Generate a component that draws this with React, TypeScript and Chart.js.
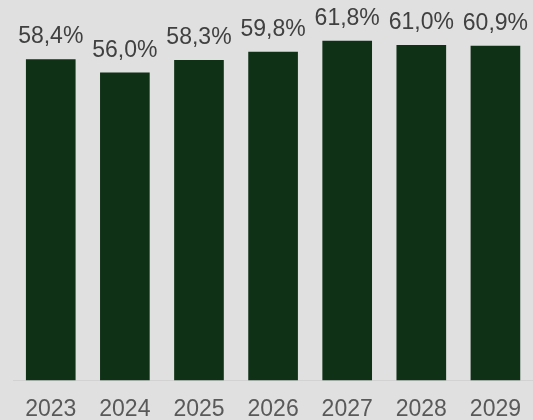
import React, { useEffect, useRef } from "react";
import { Chart, registerables } from "chart.js";

Chart.register(...registerables);

const categories: string[] = ["2023", "2024", "2025", "2026", "2027", "2028", "2029"];
const shareValues: number[] = [58.4, 56.0, 58.3, 59.8, 61.8, 61.0, 60.9];

const BG = "#e0e0e0";
const BAR = "#0f3116";
const FONT = "'Liberation Sans', Arial, sans-serif";

const valueLabels = {
  id: "valueLabels",
  afterDatasetsDraw(chart: any) {
    const ctx = chart.ctx;
    const meta = chart.getDatasetMeta(0);
    const data = chart.data.datasets[0].data as number[];
    ctx.save();
    ctx.font = `23px ${FONT}`;
    ctx.fillStyle = "#404040";
    ctx.textAlign = "center";
    ctx.textBaseline = "alphabetic";
    meta.data.forEach((bar: any, i: number) => {
      const txt = data[i].toFixed(1).replace(".", ",") + "%";
      ctx.fillText(txt, bar.x, bar.y - 16);
    });
    ctx.restore();
  },
};

export default function App() {
  const ref = useRef<HTMLCanvasElement | null>(null);
  useEffect(() => {
    if (!ref.current) return;
    const chart = new Chart(ref.current, {
      type: "bar",
      data: {
        labels: categories,
        datasets: [
          {
            data: shareValues,
            backgroundColor: BAR,
            borderWidth: 0,
            categoryPercentage: 1,
            barPercentage: 0.67,
          },
        ],
      },
      options: {
        animation: false,
        responsive: false,
        maintainAspectRatio: false,
        devicePixelRatio: 1,
        layout: { padding: { left: 13.7, right: 0, top: 6.6, bottom: 0 } },
        plugins: {
          legend: { display: false },
          tooltip: { enabled: false },
        },
        scales: {
          x: {
            grid: { display: true, color: "transparent", drawTicks: false },
            border: { display: true, color: "#d2d2d2", width: 1 },
            ticks: {
              color: "#595959",
              font: { family: FONT, size: 23 },
              padding: 15,
              maxRotation: 0,
              autoSkip: false,
            },
          },
          y: {
            display: false,
            min: 0,
            max: 68,
          },
        },
      },
      plugins: [valueLabels],
    });
    return () => chart.destroy();
  }, []);
  return (
    <div
      style={{
        position: "fixed",
        left: 0,
        top: 0,
        width: 533,
        height: 420,
        overflow: "hidden",
        background: BG,
      }}
    >
      <canvas
        ref={ref}
        width={536}
        height={438}
        style={{ display: "block", width: 536, height: 438 }}
      />
    </div>
  );
}
